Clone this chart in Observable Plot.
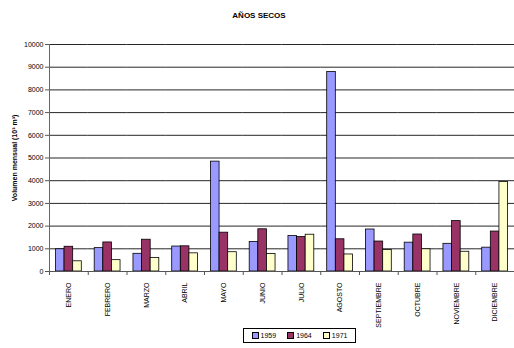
<!DOCTYPE html>
<html>
<head>
<meta charset="utf-8">
<script src="https://cdn.jsdelivr.net/npm/d3@7"></script>
<script src="https://cdn.jsdelivr.net/npm/@observablehq/plot@0.6"></script>
<style>
  html, body { margin: 0; padding: 0; background: #fff; }
  body { font-family: "Liberation Sans", Arial, sans-serif; }
  #wrap { width: 514px; height: 348px; position: relative; background: #fff; }
  #title { height: 30px; line-height: 31px; text-align: center; font-weight: bold; font-size: 8px; color: #000; padding-left: 4px; box-sizing: border-box; }
  #chart svg { display: block; }
  #chart [aria-label="y-axis label"] { font-weight: bold; }
  #legend { height: 28px; position: relative; }
  #legendBox { position: absolute; left: 243px; top: 8px; width: 107px; height: 13px; border: 1px solid #000; display: flex; align-items: center; justify-content: space-around; font-size: 7px; padding: 0 2px; box-sizing: content-box; }
  .item { display: flex; align-items: center; }
  .sw { width: 5px; height: 5px; border: 1px solid #000; margin-right: 2px; }
</style>
</head>
<body>
<div id="wrap">
  <div id="title"></div>
  <div id="chart"></div>
  <div id="legend"><div id="legendBox"></div></div>
</div>
<script>
const titleText = "AÑOS SECOS";
const yLabel = "Volumen mensual (10³ m³)";
const months = ["ENERO", "FEBRERO", "MARZO", "ABRIL", "MAYO", "JUNIO", "JULIO", "AGOSTO", "SEPTIEMBRE", "OCTUBRE", "NOVIEMBRE", "DICIEMBRE"];
const years = ["1959", "1964", "1971"];
const colors = ["#9999FF", "#993366", "#FFFFCC"];
const v1959 = [980, 1030, 780, 1100, 4840, 1300, 1560, 8790, 1850, 1270, 1220, 1050];
const v1964 = [1090, 1280, 1400, 1110, 1710, 1860, 1520, 1420, 1320, 1630, 2220, 1760];
const v1971 = [450, 500, 600, 800, 850, 770, 1620, 750, 950, 980, 870, 3940];
const yTickValues = [0, 1000, 2000, 3000, 4000, 5000, 6000, 7000, 8000, 9000, 10000];

const series = [v1959, v1964, v1971];
const data = months.flatMap((m, i) => years.map((y, j) => ({month: m, year: y, value: series[j][i]})));

document.getElementById("title").textContent = titleText;

const W = 514, ML = 49, MR = 0;
const half = (W - ML - MR) / months.length / 2;

const chart = Plot.plot({
  width: W,
  height: 290,
  marginLeft: ML,
  marginRight: MR,
  marginTop: 14,
  marginBottom: 49,
  style: {fontFamily: "'Liberation Sans', Arial, sans-serif", fontSize: "7px", background: "white", color: "#000", overflow: "visible"},
  fx: {domain: months, padding: 0, round: false, label: null},
  x: {domain: years, paddingInner: 0, paddingOuter: 0.75, round: false, axis: null},
  y: {domain: [0, 10000], label: null},
  color: {domain: years, range: colors},
  marks: [
    Plot.gridY(yTickValues, {stroke: "#000", strokeOpacity: 0.85}),
    Plot.barY(data, {fx: "month", x: "year", y: "value", fill: "year", stroke: "#000", strokeWidth: 0.8}),
    Plot.ruleY([0], {stroke: "#555"}),
    Plot.axisY(yTickValues, {tickSize: 4, tickPadding: 2, tickFormat: d3.format("d"), label: yLabel, labelAnchor: "center", labelOffset: 37, labelArrow: "none", stroke: "#555"}),
    Plot.axisFx({anchor: "bottom", tickRotate: -90, tickSize: 0, tickPadding: 11, label: null}),
    Plot.axisFx({anchor: "bottom", tickSize: 4, tickFormat: () => "", dx: -half, label: null, stroke: "#555"}),
    Plot.frame({anchor: "left", facetAnchor: "left", stroke: "#666"})
  ]
});
document.getElementById("chart").appendChild(chart);

const box = document.getElementById("legendBox");
years.forEach((y, i) => {
  const it = document.createElement("div");
  it.className = "item";
  const sw = document.createElement("div");
  sw.className = "sw";
  sw.style.background = colors[i];
  const t = document.createElement("span");
  t.textContent = y;
  it.appendChild(sw);
  it.appendChild(t);
  box.appendChild(it);
});
</script>
</body>
</html>
